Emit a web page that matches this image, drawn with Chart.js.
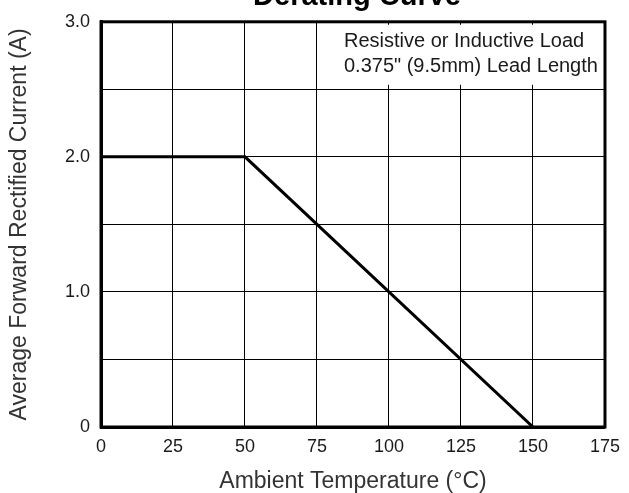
<!DOCTYPE html>
<html>
<head>
<meta charset="utf-8">
<script src="https://cdn.jsdelivr.net/npm/chart.js@4"></script>
<style>
  html, body { margin: 0; padding: 0; background: #fff; }
  #wrap { width: 629px; height: 493px; }
</style>
</head>
<body>
<div id="wrap"><canvas id="c" width="629" height="493"></canvas></div>
<script>
// Derating curve: current vs ambient temperature
const temperatures = [0, 50, 150];
const currents = [2.0, 2.0, 0];
const xTicks = [0, 25, 50, 75, 100, 125, 150, 175];
const noteLines = ['Resistive or Inductive Load', '0.375" (9.5mm) Lead Length'];
const chartTitle = 'Derating Curve';

Chart.defaults.font.family = "'Liberation Sans', Arial, sans-serif";
Chart.defaults.color = '#1a1a1a';

// Title (clipped at the top edge), note box and heavy frame.
const decorations = {
    id: 'decorations',
    beforeDatasetsDraw(chart) {
        const { ctx, chartArea: a } = chart;
        ctx.save();
        // white box behind the note, hides the grid there
        ctx.fillStyle = '#fff';
        ctx.fillRect(a.left + 236, a.top + 3, a.right - a.left - 238, 60);
        ctx.fillStyle = '#1a1a1a';
        ctx.font = "20px 'Liberation Sans', Arial, sans-serif";
        ctx.textAlign = 'left';
        ctx.textBaseline = 'middle';
        ctx.fillText(noteLines[0], a.left + 243, a.top + 20);
        ctx.fillText(noteLines[1], a.left + 243, a.top + 45);
        ctx.restore();
    },
    afterDatasetsDraw(chart) {
        const { ctx, chartArea: a } = chart;
        ctx.save();
        ctx.strokeStyle = '#000';
        ctx.lineWidth = 3;
        ctx.strokeRect(a.left, a.top, a.right - a.left, a.bottom - a.top);
        ctx.fillStyle = '#000';
        ctx.font = "bold 29px 'Liberation Sans', Arial, sans-serif";
        ctx.textAlign = 'center';
        ctx.textBaseline = 'alphabetic';
        ctx.fillText(chartTitle, 357, 5);
        ctx.restore();
    },
};

new Chart(document.getElementById('c'), {
    type: 'line',
    data: {
        datasets: [{
            data: temperatures.map((t, i) => ({ x: t, y: currents[i] })),
            borderColor: '#000',
            borderWidth: 3,
            pointRadius: 0,
            tension: 0,
        }],
    },
    options: {
        responsive: false,
        animation: false,
        layout: { padding: { top: 16, right: 21, left: 0, bottom: 0 } },
        plugins: {
            legend: { display: false },
            tooltip: { enabled: false },
        },
        scales: {
            x: {
                type: 'linear',
                min: 0,
                max: 175,
                afterBuildTicks(scale) {
                    scale.ticks = xTicks.map((v) => ({ value: v }));
                },
                afterFit(scale) { scale.height = 66; },
                grid: { color: '#000', lineWidth: 1, drawTicks: false },
                border: { color: '#000', width: 3 },
                ticks: { padding: 9, font: { size: 18 }, color: '#1a1a1a' },
                title: {
                    display: true,
                    text: 'Ambient Temperature (°C)',
                    font: { size: 23, lineHeight: 1 },
                    color: '#333',
                    padding: { top: 0, bottom: 0 },
                },
            },
            y: {
                min: 0,
                max: 3,
                afterFit(scale) { scale.width = 101; },
                grid: { color: '#000', lineWidth: 1, drawTicks: false },
                border: { color: '#000', width: 3 },
                ticks: {
                    stepSize: 0.5,
                    padding: 11,
                    font: { size: 18 },
                    color: '#1a1a1a',
                    callback: (v) => (v === 0 ? '0' : Number.isInteger(v) ? v.toFixed(1) : ''),
                },
                title: {
                    display: true,
                    text: 'Average Forward Rectified Current (A)',
                    font: { size: 23 },
                    color: '#333',
                    padding: { top: 6, bottom: 0 },
                },
            },
        },
    },
    plugins: [decorations],
});
</script>
</body>
</html>
